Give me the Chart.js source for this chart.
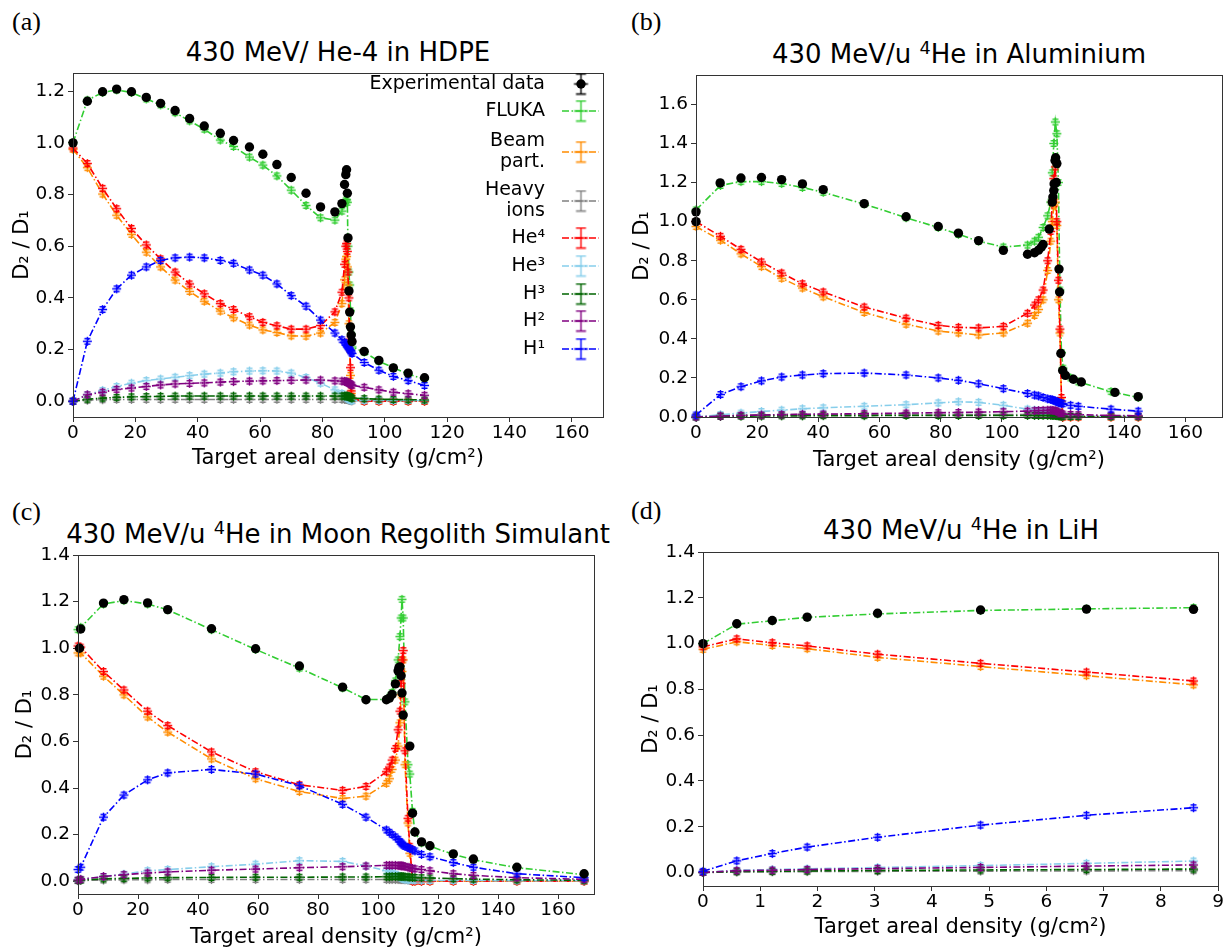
<!DOCTYPE html>
<html>
<head>
<meta charset="utf-8">
<script src="https://cdn.jsdelivr.net/npm/chart.js@4.4.1/dist/chart.umd.min.js"></script>
<style>
body{margin:0;background:#fff;width:1225px;height:951px;position:relative;overflow:hidden;font-family:'DejaVu Sans',sans-serif;color:#000;}
.box{position:absolute;}
.ttl{position:absolute;width:600px;font-size:26px;line-height:30px;text-align:center;white-space:nowrap;}
.ttl sup{font-size:0.68em;vertical-align:0.5em;line-height:0;}
.tag{position:absolute;font-family:'Liberation Serif',serif;font-size:26px;line-height:30px;}
</style>
</head>
<body>

<div class="tag" style="left:12px;top:7px">(a)</div>
<div class="tag" style="left:631px;top:7px">(b)</div>
<div class="tag" style="left:12px;top:497px">(c)</div>
<div class="tag" style="left:631px;top:496px">(d)</div>

<div class="ttl" style="left:38px;top:37px">430 MeV/ He-4 in HDPE</div>
<div class="ttl" style="left:659px;top:39px">430 MeV/u <sup>4</sup>He in Aluminium</div>
<div class="ttl" style="left:38px;top:519px">430 MeV/u <sup>4</sup>He in Moon Regolith Simulant</div>
<div class="ttl" style="left:661px;top:515px">430 MeV/u <sup>4</sup>He in LiH</div>

<div class="box" id="boxA"><canvas id="chartA"></canvas></div>
<div class="box" id="boxB"><canvas id="chartB"></canvas></div>
<div class="box" id="boxC"><canvas id="chartC"></canvas></div>
<div class="box" id="boxD"><canvas id="chartD"></canvas></div>

<script>
// series names, in legend order
const seriesLabels = ['Experimental data', 'FLUKA', 'Beam\npart.', 'Heavy\nions', 'He⁴', 'He³', 'H³', 'H²', 'H¹'];

// tick labels
const xTicks160 = [0, 20, 40, 60, 80, 100, 120, 140, 160];
const xTicksLiH = [0, 1, 2, 3, 4, 5, 6, 7, 8, 9];
const yTicksA = [0, 0.2, 0.4, 0.6, 0.8, 1.0, 1.2];
const yTicksB = [0, 0.2, 0.4, 0.6, 0.8, 1.0, 1.2, 1.4, 1.6];
const yTicksC = [0, 0.2, 0.4, 0.6, 0.8, 1.0, 1.2, 1.4];

// (a) HDPE - experiment and simulation share the depths
const xA = [0, 4.6, 9.5, 14, 18.75, 23.5, 28.1, 32.75, 37.4, 42.1, 47.25, 51.5, 56.6, 60.9, 65.4, 70, 74.75, 79.4, 84, 86.25, 87.1, 87.5, 87.75, 88, 88.2, 88.5, 88.75, 89, 89.25, 89.5, 93.4, 98.1, 102.75, 107.5, 112.75];
const expA = [1.0, 1.161, 1.198, 1.208, 1.198, 1.176, 1.153, 1.125, 1.094, 1.065, 1.037, 1.009, 0.984, 0.956, 0.916, 0.866, 0.805, 0.752, 0.733, 0.765, 0.839, 0.877, 0.896, 0.805, 0.632, 0.427, 0.345, 0.288, 0.256, 0.231, 0.193, 0.158, 0.129, 0.109, 0.091];
const flukaA = [1.0, 1.165, 1.195, 1.205, 1.195, 1.17, 1.147, 1.117, 1.085, 1.053, 1.011, 0.986, 0.945, 0.914, 0.872, 0.817, 0.758, 0.71, 0.701, 0.736, 0.765, 0.775, 0.78, 0.77, 0.6, 0.5, 0.45, 0.35, 0.26, 0.21, 0.19, 0.155, 0.13, 0.105, 0.085];
const beamA = [0.975, 0.904, 0.802, 0.72, 0.646, 0.577, 0.52, 0.469, 0.425, 0.387, 0.349, 0.323, 0.295, 0.276, 0.266, 0.253, 0.252, 0.264, 0.305, 0.378, 0.47, 0.55, 0.56, 0.52, 0.45, 0.3, 0.2, 0.1, 0.03, 0.01, 0, 0, 0, 0, 0];
const heavyA = [0, 0.004, 0.006, 0.007, 0.007, 0.007, 0.007, 0.007, 0.007, 0.007, 0.007, 0.007, 0.007, 0.007, 0.007, 0.007, 0.007, 0.007, 0.007, 0.007, 0.007, 0.007, 0.007, 0.007, 0.006, 0.005, 0.004, 0.003, 0.002, 0.002, 0.002, 0.002, 0.002, 0.002, 0.002];
const he4A = [0.98, 0.92, 0.824, 0.745, 0.669, 0.605, 0.551, 0.5, 0.454, 0.416, 0.378, 0.355, 0.327, 0.305, 0.292, 0.279, 0.279, 0.293, 0.346, 0.422, 0.53, 0.6, 0.61, 0.58, 0.5, 0.4, 0.24, 0.13, 0.04, 0.01, 0, 0, 0, 0, 0];
const he3A = [0, 0.025, 0.042, 0.057, 0.07, 0.08, 0.086, 0.093, 0.099, 0.105, 0.109, 0.114, 0.117, 0.118, 0.117, 0.109, 0.092, 0.07, 0.044, 0.03, 0.022, 0.018, 0.015, 0.012, 0.01, 0.008, 0.006, 0.005, 0.004, 0.003, 0.003, 0.003, 0.003, 0.003, 0.003];
const h3A = [0, 0.008, 0.012, 0.015, 0.017, 0.018, 0.019, 0.02, 0.02, 0.02, 0.02, 0.02, 0.02, 0.02, 0.02, 0.02, 0.02, 0.02, 0.02, 0.02, 0.02, 0.02, 0.02, 0.02, 0.019, 0.018, 0.017, 0.015, 0.013, 0.012, 0.01, 0.008, 0.007, 0.006, 0.005];
const h2A = [0, 0.025, 0.035, 0.046, 0.051, 0.057, 0.063, 0.067, 0.069, 0.071, 0.074, 0.076, 0.078, 0.079, 0.08, 0.081, 0.082, 0.082, 0.079, 0.078, 0.077, 0.076, 0.075, 0.074, 0.072, 0.07, 0.068, 0.066, 0.064, 0.062, 0.054, 0.044, 0.035, 0.029, 0.023];
const h1A = [0, 0.232, 0.355, 0.435, 0.488, 0.52, 0.545, 0.555, 0.558, 0.555, 0.545, 0.534, 0.508, 0.488, 0.454, 0.409, 0.368, 0.314, 0.264, 0.238, 0.228, 0.222, 0.218, 0.214, 0.21, 0.205, 0.2, 0.195, 0.19, 0.185, 0.15, 0.12, 0.096, 0.08, 0.061];

// (b) Aluminium
const xExpB = [0, 0, 7.9, 14.7, 21.4, 28, 34.8, 41.6, 55, 68.7, 79.2, 85.8, 92.4, 100.5, 108.4, 110.7, 112, 112.9, 113.5, 115.5, 116.5, 116.7, 117, 117.1, 117.4, 117.6, 117.8, 118, 118.7, 118.9, 119.3, 119.9, 120.8, 123.4, 126, 137, 144.6];
const expB = [1.05, 1.0, 1.198, 1.223, 1.226, 1.215, 1.193, 1.164, 1.092, 1.025, 0.975, 0.941, 0.903, 0.853, 0.833, 0.841, 0.854, 0.869, 0.883, 0.962, 1.10, 1.126, 1.159, 1.193, 1.313, 1.327, 1.201, 1.297, 0.757, 0.64, 0.325, 0.238, 0.213, 0.193, 0.179, 0.126, 0.104];
const xB = [0, 8, 14.7, 21.4, 28, 34.8, 41.6, 55, 68.7, 79.2, 85.8, 92.4, 100.5, 108.4, 110.7, 112, 113.5, 115, 116, 116.5, 117, 117.5, 118, 118.5, 119, 119.5, 120, 122.5, 125, 135.7, 144.6];
const flukaB = [1.06, 1.185, 1.205, 1.205, 1.195, 1.175, 1.15, 1.09, 1.02, 0.97, 0.935, 0.9, 0.87, 0.88, 0.9, 0.92, 0.97, 1.03, 1.1, 1.25, 1.4, 1.51, 1.45, 1.2, 0.65, 0.33, 0.25, 0.2, 0.18, 0.13, 0.1];
const beamB = [0.975, 0.905, 0.835, 0.77, 0.71, 0.66, 0.615, 0.535, 0.475, 0.44, 0.43, 0.42, 0.43, 0.48, 0.52, 0.55, 0.6, 0.75, 0.9, 1.0, 1.08, 1.1, 0.98, 0.6, 0.43, 0.08, 0, 0, 0, 0, 0];
const heavyB = [0, 0.008, 0.01, 0.011, 0.012, 0.012, 0.012, 0.012, 0.012, 0.012, 0.012, 0.012, 0.012, 0.012, 0.012, 0.012, 0.012, 0.012, 0.012, 0.012, 0.011, 0.01, 0.009, 0.008, 0.006, 0.005, 0.005, 0.004, 0.004, 0.003, 0.003];
const he4B = [1.0, 0.925, 0.858, 0.794, 0.737, 0.682, 0.64, 0.563, 0.506, 0.469, 0.459, 0.456, 0.464, 0.531, 0.573, 0.6, 0.65, 0.8, 0.95, 1.1, 1.22, 1.28, 1.0, 0.7, 0.45, 0.1, 0, 0, 0, 0, 0];
const he3B = [0, 0.012, 0.02, 0.028, 0.035, 0.042, 0.047, 0.055, 0.063, 0.072, 0.078, 0.075, 0.06, 0.04, 0.035, 0.032, 0.03, 0.027, 0.024, 0.02, 0.017, 0.014, 0.012, 0.01, 0.008, 0.006, 0.005, 0.004, 0.004, 0.003, 0.003];
const h3B = [0, 0.003, 0.004, 0.005, 0.006, 0.006, 0.007, 0.007, 0.008, 0.008, 0.008, 0.008, 0.008, 0.008, 0.008, 0.008, 0.008, 0.008, 0.008, 0.008, 0.008, 0.008, 0.007, 0.006, 0.005, 0.004, 0.004, 0.003, 0.003, 0.002, 0.002];
const h2B = [0, 0.005, 0.008, 0.01, 0.012, 0.014, 0.015, 0.017, 0.02, 0.022, 0.023, 0.025, 0.027, 0.03, 0.032, 0.033, 0.034, 0.035, 0.035, 0.034, 0.033, 0.032, 0.03, 0.025, 0.02, 0.017, 0.015, 0.013, 0.012, 0.008, 0.006];
const h1B = [0.01, 0.115, 0.155, 0.185, 0.205, 0.215, 0.222, 0.225, 0.215, 0.2, 0.188, 0.17, 0.145, 0.12, 0.112, 0.108, 0.1, 0.093, 0.09, 0.088, 0.085, 0.082, 0.078, 0.075, 0.072, 0.07, 0.068, 0.06, 0.055, 0.04, 0.03];

// (c) Moon regolith simulant
const xExpC = [0.5, 0.9, 8.5, 15.3, 23.2, 29.9, 44.5, 59.2, 73.8, 88.2, 96, 102.8, 103.8, 104.7, 105.8, 106.7, 107, 107.3, 107.7, 108, 108.4, 110.6, 111.5, 112.3, 114.5, 117.3, 125.1, 131.8, 146.3, 168.7];
const expC = [1.0, 1.083, 1.194, 1.209, 1.195, 1.166, 1.084, 0.998, 0.924, 0.833, 0.779, 0.779, 0.786, 0.802, 0.847, 0.903, 0.917, 0.92, 0.882, 0.808, 0.713, 0.58, 0.292, 0.211, 0.169, 0.152, 0.117, 0.095, 0.06, 0.032];
const xC = [0, 0.9, 8.5, 15.3, 23.2, 29.9, 44.5, 59.2, 73.8, 88.2, 96, 102.8, 103.8, 104.7, 105.8, 106.7, 107.3, 107.7, 108, 108.4, 109, 110, 110.6, 111.5, 112.3, 114.5, 117.3, 125.1, 131.8, 146.3, 168.7];
const flukaC = [1.08, 1.09, 1.19, 1.205, 1.19, 1.165, 1.08, 0.995, 0.915, 0.83, 0.78, 0.78, 0.79, 0.81, 0.86, 0.95, 1.05, 1.13, 1.21, 1.13, 0.77, 0.5, 0.46, 0.3, 0.21, 0.165, 0.15, 0.115, 0.092, 0.058, 0.028];
const beamC = [0.98, 0.98, 0.88, 0.8, 0.705, 0.64, 0.525, 0.44, 0.385, 0.355, 0.365, 0.42, 0.44, 0.48, 0.52, 0.58, 0.68, 0.8, 0.9, 0.95, 0.5, 0.25, 0.12, 0, 0, 0, 0, 0, 0, 0, 0];
const heavyC = [0.002, 0.003, 0.005, 0.006, 0.006, 0.007, 0.007, 0.007, 0.007, 0.007, 0.007, 0.007, 0.007, 0.007, 0.007, 0.007, 0.007, 0.007, 0.007, 0.007, 0.006, 0.005, 0.005, 0.004, 0.004, 0.004, 0.003, 0.003, 0.002, 0.002, 0.001];
const he4C = [1.01, 1.005, 0.9, 0.821, 0.73, 0.668, 0.555, 0.47, 0.414, 0.39, 0.407, 0.47, 0.49, 0.52, 0.57, 0.65, 0.73, 0.85, 0.95, 0.99, 0.56, 0.27, 0.15, 0, 0, 0, 0, 0, 0, 0, 0];
const he3C = [0.005, 0.008, 0.02, 0.03, 0.045, 0.05, 0.062, 0.073, 0.088, 0.085, 0.065, 0.045, 0.04, 0.035, 0.03, 0.025, 0.02, 0.015, 0.012, 0.01, 0.008, 0.006, 0.005, 0.005, 0.004, 0.004, 0.003, 0.003, 0.003, 0.002, 0.002];
const h3C = [0.003, 0.005, 0.01, 0.012, 0.014, 0.015, 0.016, 0.017, 0.017, 0.018, 0.018, 0.019, 0.019, 0.02, 0.02, 0.02, 0.02, 0.02, 0.02, 0.02, 0.019, 0.018, 0.017, 0.016, 0.016, 0.015, 0.014, 0.011, 0.009, 0.006, 0.004];
const h2C = [0.005, 0.008, 0.02, 0.028, 0.035, 0.04, 0.047, 0.052, 0.058, 0.062, 0.065, 0.068, 0.068, 0.068, 0.068, 0.067, 0.067, 0.066, 0.066, 0.065, 0.063, 0.06, 0.058, 0.055, 0.053, 0.05, 0.045, 0.032, 0.025, 0.015, 0.008];
const h1C = [0.05, 0.06, 0.275, 0.37, 0.435, 0.465, 0.48, 0.46, 0.41, 0.33, 0.275, 0.22, 0.21, 0.2, 0.19, 0.18, 0.17, 0.165, 0.16, 0.155, 0.15, 0.145, 0.14, 0.135, 0.13, 0.115, 0.105, 0.08, 0.06, 0.032, 0.015];

// (d) LiH
const xD = [0, 0.59, 1.21, 1.82, 3.05, 4.85, 6.7, 8.57];
const expD = [1.0, 1.087, 1.101, 1.116, 1.133, 1.147, 1.151, 1.15];
const flukaD = [1.0, 1.085, 1.1, 1.115, 1.13, 1.145, 1.152, 1.157];
const beamD = [0.975, 1.008, 0.992, 0.978, 0.94, 0.9, 0.86, 0.82];
const heavyD = [0, 0.002, 0.003, 0.004, 0.005, 0.006, 0.007, 0.008];
const he4D = [0.986, 1.021, 1.004, 0.99, 0.954, 0.914, 0.876, 0.837];
const he3D = [0, 0.01, 0.013, 0.016, 0.022, 0.03, 0.04, 0.05];
const h3D = [0, 0.004, 0.005, 0.007, 0.009, 0.011, 0.013, 0.015];
const h2D = [0, 0.008, 0.01, 0.013, 0.017, 0.022, 0.028, 0.033];
const h1D = [0.005, 0.051, 0.083, 0.111, 0.154, 0.207, 0.25, 0.283];


const COLORS = ['#000000', '#32cd32', '#ff8c00', '#808080', '#ff0000', '#87ceeb', '#006400', '#800080', '#0000ff'];
const FONT = "'DejaVu Sans', sans-serif";
const DASH = [7, 2.5, 1.5, 2.5];

// errorbar-like marker: a cross with short caps
function glyph(color, hw, vh, capY, capW, lw){
  const s = Math.ceil(Math.max(hw, vh)) * 2 + 3;
  const c = document.createElement('canvas');
  c.width = s; c.height = s;
  const g = c.getContext('2d');
  const m = s / 2;
  g.strokeStyle = color;
  g.lineWidth = lw;
  g.beginPath();
  g.moveTo(m - hw, m); g.lineTo(m + hw, m);
  g.moveTo(m, m - vh); g.lineTo(m, m + vh);
  g.moveTo(m - capW, m - capY); g.lineTo(m + capW, m - capY);
  g.moveTo(m - capW, m + capY); g.lineTo(m + capW, m + capY);
  g.stroke();
  return c;
}

function pts(xs, ys){
  return xs.map((x, i) => ({x: x, y: ys[i]}));
}

// experiment on top, then the later series over the earlier ones
function datasets(xExp, yExp, xSim, sims){
  const out = [{
    label: seriesLabels[0],
    data: pts(xExp, yExp),
    showLine: false,
    pointStyle: 'circle',
    pointRadius: 4.7,
    backgroundColor: '#000',
    borderColor: '#000',
    borderWidth: 0,
    order: 0,
    clip: 8
  }];
  sims.forEach((ys, k) => {
    const col = COLORS[k + 1];
    out.push({
      label: seriesLabels[k + 1],
      data: pts(xSim, ys),
      showLine: true,
      borderColor: col,
      backgroundColor: col,
      borderWidth: 1.6,
      borderDash: DASH,
      pointStyle: glyph(col, 4.5, 4.5, 2.8, 3, 1.4),
      pointRadius: 4,
      order: sims.length - k,
      clip: 8
    });
  });
  return out;
}

const frame = {
  id: 'frame',
  afterDatasetsDraw(chart){
    const a = chart.chartArea, ctx = chart.ctx;
    ctx.save();
    ctx.strokeStyle = '#333';
    ctx.lineWidth = 1;
    ctx.setLineDash([]);
    ctx.strokeRect(Math.round(a.left) + 0.5, Math.round(a.top) + 0.5, Math.round(a.right - a.left), Math.round(a.bottom - a.top));
    ctx.restore();
  }
};

// legend drawn inside panel (a), text to the left of the marker
const legendA = {
  id: 'legendA',
  afterDraw(chart){
    const a = chart.chartArea, ctx = chart.ctx;
    const rows = [25, 52, 93, 142, 179, 207, 235, 262, 290];
    const tx = a.right - 58;
    const mx = a.right - 22;
    ctx.save();
    ctx.font = '19px ' + FONT;
    ctx.textAlign = 'right';
    ctx.textBaseline = 'middle';
    rows.forEach((y, i) => {
      const lines = seriesLabels[i].split('\n');
      ctx.fillStyle = '#000';
      lines.forEach((t, j) => {
        ctx.fillText(t, tx, y + (j - (lines.length - 1) / 2) * 21);
      });
      const col = COLORS[i];
      if (i > 0) {
        ctx.strokeStyle = col;
        ctx.lineWidth = 1.6;
        ctx.setLineDash(DASH);
        ctx.beginPath();
        ctx.moveTo(mx - 19, y); ctx.lineTo(mx + 18, y);
        ctx.stroke();
        ctx.setLineDash([]);
      } else {
        ctx.fillStyle = '#000';
        ctx.beginPath();
        ctx.arc(mx, y, 4.7, 0, Math.PI * 2);
        ctx.fill();
      }
      const g = glyph(col, 7, 10, 10, 5, 1.4);
      ctx.drawImage(g, mx - g.width / 2, y - g.height / 2);
    });
    ctx.restore();
  }
};

function makePanel(boxId, canvasId, geom, xr, yr, xTicks, yTicks, dsets, extra){
  const padTop = 8, padRight = geom.padR;
  const box = document.getElementById(boxId);
  box.style.left = (geom.l - geom.yW) + 'px';
  box.style.top = (geom.t - padTop) + 'px';
  box.style.width = (geom.r - geom.l + geom.yW + padRight) + 'px';
  box.style.height = (geom.b - geom.t + padTop + geom.xH) + 'px';

  const tickFont = {family: FONT, size: 18.5};
  const titleFont = {family: FONT, size: 21};
  const grid = {display: true, drawOnChartArea: false, drawTicks: true, tickLength: 5, color: '#333', lineWidth: 1};

  return new Chart(document.getElementById(canvasId), {
    type: 'scatter',
    data: {datasets: dsets},
    options: {
      responsive: true,
      maintainAspectRatio: false,
      animation: false,
      events: [],
      layout: {padding: {top: padTop, right: padRight, left: 0, bottom: 0}, autoPadding: false},
      plugins: {legend: {display: false}, tooltip: {enabled: false}, title: {display: false}},
      elements: {line: {tension: 0}},
      scales: {
        x: {
          type: 'linear', min: xr[0], max: xr[1],
          grid: grid, border: {display: false},
          afterBuildTicks: s => { s.ticks = xTicks.map(v => ({value: v})); },
          afterFit: s => { s.height = geom.xH; },
          ticks: {font: tickFont, color: '#000', padding: 0, maxRotation: 0, callback: v => String(v)},
          title: {display: true, text: 'Target areal density (g/cm²)', font: titleFont, color: '#000', padding: {top: 0, bottom: 3}}
        },
        y: {
          type: 'linear', min: yr[0], max: yr[1],
          grid: grid, border: {display: false},
          afterBuildTicks: s => { s.ticks = yTicks.map(v => ({value: v})); },
          afterFit: s => { s.width = geom.yW; },
          ticks: {font: tickFont, color: '#000', padding: 3, callback: v => v.toFixed(1)},
          title: {display: true, text: 'D₂ / D₁', font: titleFont, color: '#000', padding: {top: 0, bottom: 0}}
        }
      }
    },
    plugins: [frame].concat(extra || [])
  });
}

makePanel('boxA', 'chartA', {l: 73, t: 67, r: 603, b: 417, yW: 63, xH: 57, padR: 10},
  [0, 170], [-0.061, 1.27], xTicks160, yTicksA,
  datasets(xA, expA, xA, [flukaA, beamA, heavyA, he4A, he3A, h3A, h2A, h1A]), [legendA]);

makePanel('boxB', 'chartB', {l: 696, t: 69, r: 1222, b: 417, yW: 66, xH: 59, padR: 3},
  [0, 172], [0, 1.75], xTicks160, yTicksB,
  datasets(xExpB, expB, xB, [flukaB, beamB, heavyB, he4B, he3B, h3B, h2B, h1B]));

makePanel('boxC', 'chartC', {l: 78, t: 549, r: 594, b: 894, yW: 65, xH: 59, padR: 10},
  [0, 172], [-0.055, 1.4], xTicks160, yTicksC,
  datasets(xExpC, expC, xC, [flukaC, beamC, heavyC, he4C, he3C, h3C, h2C, h1C]));

makePanel('boxD', 'chartD', {l: 703, t: 546, r: 1219, b: 886, yW: 64, xH: 57, padR: 5},
  [0, 9], [-0.059, 1.4], xTicksLiH, yTicksC,
  datasets(xD, expD, xD, [flukaD, beamD, heavyD, he4D, he3D, h3D, h2D, h1D]));
</script>
</body>
</html>
